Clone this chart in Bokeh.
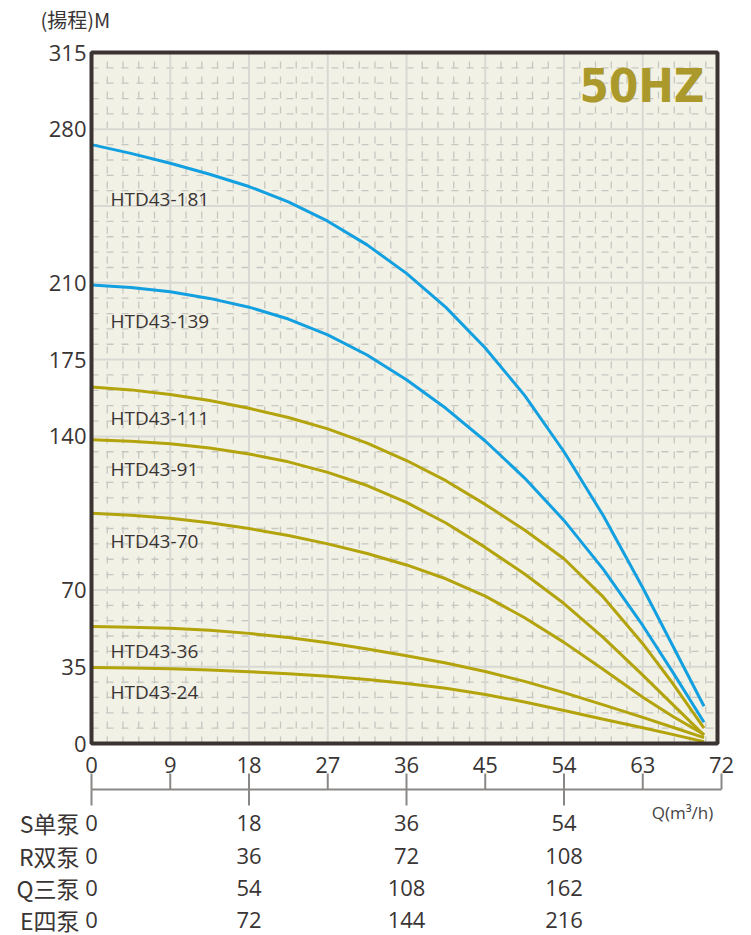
from bokeh.plotting import figure
from bokeh.models import Range1d
from bokeh.core.properties import value
from bokeh.embed import file_html
from bokeh.resources import INLINE

# ---------------- data ----------------
Q = [0, 4.5, 9, 13.5, 18, 22.5, 27, 31.5, 36, 40.5, 45, 49.5, 54, 58.5, 63, 66.5, 70]
H_181 = [273, 269, 264.5, 259.5, 253.9, 246.9, 238.1, 227.3, 214.3, 198.8, 180.3, 158.7, 133, 103.8, 71, 44, 17]
H_139 = [209, 207.9, 205.9, 202.9, 198.9, 193.5, 186.3, 177.1, 165.8, 152.8, 137.9, 121, 101.7, 79.4, 53.8, 32.1, 9.7]
H_111 = [162.5, 161.2, 159.1, 156.4, 152.8, 148.6, 143.4, 136.9, 129, 119.8, 109, 97.3, 84.2, 66.7, 45.5, 27, 7]
H_91 = [138.5, 137.8, 136.6, 134.7, 132, 128.4, 123.6, 117.6, 109.9, 100.5, 89.4, 77.3, 63.8, 48.3, 31.2, 17.5, 3.8]
H_70 = [105, 104.1, 102.7, 100.6, 98, 94.8, 91, 86.6, 81.4, 75.1, 67.2, 57.3, 46.1, 33.7, 21.1, 12.2, 4.1]
H_36 = [53.3, 53, 52.5, 51.6, 50.2, 48.3, 45.9, 43.1, 40, 36.7, 32.8, 28.3, 23.2, 17.6, 11.9, 7.3, 2.7]
H_24 = [34.6, 34.4, 34.05, 33.5, 32.75, 31.8, 30.65, 29.2, 27.4, 25.15, 22.35, 18.95, 15.05, 11.05, 7.15, 4.05, 0.8]

models = ["HTD43-181", "HTD43-139", "HTD43-111", "HTD43-91", "HTD43-70", "HTD43-36", "HTD43-24"]
heads = [H_181, H_139, H_111, H_91, H_70, H_36, H_24]
series_group = ["blue", "blue", "olive", "olive", "olive", "olive", "olive"]

y_tick_labels = [0, 35, 70, 140, 175, 210, 280, 315]
y_max = 315
x_ticks = [0, 9, 18, 27, 36, 45, 54, 63, 72]
table_q = [0, 18, 36, 54]
pump_rows = ["S单泵", "R双泵", "Q三泵", "E四泵"]
row_values = [[0, 18, 36, 54], [0, 36, 72, 108], [0, 54, 108, 162], [0, 72, 144, 216]]
freq_label = "50HZ"
y_title = "(揚程)M"
x_title = "Q(m³/h)"

# ---------------- layout (pixel geometry -> data units) ----------------
W, H = 751, 935
X0, PX_Q = 91, 8.75            # pixel of Q=0, pixels per m3/h
Y0, PX_H = 743, 691 / 315      # pixel of H=0, pixels per metre


def qx(px):
    return (px - X0) / PX_Q


def hy(py):
    return (Y0 - py) / PX_H


chart_right = qx(717)

COLORS = {"blue": "#13a0e0", "olive": "#b3a30c"}
TXT = "#3a3535"
LATIN = "Open Sans"
CJK = "Noto Sans CJK SC"
BG = "#f2f1e6"
MAJ = "#d9d9d4"
MIN = "#c7c7c1"
FRAME = "#3a3331"
AX = "#8a8886"

label_x = qx(110)
label_y = [hy(198), hy(320), hy(417), hy(468), hy(540), hy(650), hy(691)]

p = figure(width=W, height=H,
           x_range=Range1d(qx(0), qx(W)), y_range=Range1d(hy(H), hy(0)),
           x_axis_location=None, y_axis_location=None, title_location=None,
           output_backend="svg", toolbar_location=None, min_border=0,
           background_fill_color="white", border_fill_color="white")
p.outline_line_color = None
p.xgrid.visible = False
p.ygrid.visible = False

# chart background
p.quad(left=[0], right=[chart_right], bottom=[0], top=[y_max],
       fill_color=BG, line_color=None)

# grid
v_major = [t for t in range(0, 73, 9) if 0 < t < chart_right]
v_minor = [i * 1.8 for i in range(1, 40) if i % 5 and i * 1.8 < chart_right]
h_major = list(range(35, y_max, 35))
h_minor = [v for v in range(7, y_max, 7) if v % 35]
p.segment(x0=v_minor, y0=0, x1=v_minor, y1=y_max, line_color=MIN, line_width=1.3, line_dash="7 8")
p.segment(x0=0, y0=h_minor, x1=chart_right, y1=h_minor, line_color=MIN, line_width=1.3, line_dash="7 8")
p.segment(x0=v_major, y0=0, x1=v_major, y1=y_max, line_color=MAJ, line_width=2)
p.segment(x0=0, y0=h_major, x1=chart_right, y1=h_major, line_color=MAJ, line_width=2)

# curves
for h, grp in zip(heads, series_group):
    p.line(Q, h, line_color=COLORS[grp], line_width=3, line_join="round")

# frame
p.quad(left=[0], right=[chart_right], bottom=[0], top=[y_max],
       fill_color=None, line_color=FRAME, line_width=4)

# curve labels
p.text(x=[label_x] * len(models), y=label_y, text=models,
       text_font=value(LATIN), text_font_size="19px",
       text_baseline="middle", text_align="left", text_color=TXT)

# 50HZ
p.text(x=[qx(704)], y=[hy(85)], text=[freq_label], text_align="right",
       text_baseline="middle", text_font=value("DejaVu Sans Condensed"),
       text_font_style="bold", text_font_size="47px", text_color="#ab992c")

# y tick labels and title
p.text(x=[qx(86)] * len(y_tick_labels), y=y_tick_labels, text=[str(v) for v in y_tick_labels],
       text_font=value(LATIN), text_font_size="22px", text_align="right",
       text_baseline="middle", text_color=TXT)
p.text(x=[qx(40)], y=[hy(19)], text=[y_title], text_font=value(CJK),
       text_font_size="20px", text_align="left", text_baseline="middle", text_color=TXT)

# lower flow axis
axis_h, tick_top_h, tick_bot_h = hy(789), hy(773), hy(805)
p.segment(x0=[x_ticks[0]], y0=[axis_h], x1=[x_ticks[-1]], y1=[axis_h],
          line_color=AX, line_width=2)
p.segment(x0=x_ticks, y0=tick_top_h, x1=x_ticks, y1=axis_h, line_color=AX, line_width=2)
p.segment(x0=table_q, y0=axis_h, x1=table_q, y1=tick_bot_h, line_color=AX, line_width=2)
p.text(x=x_ticks, y=[hy(764)] * len(x_ticks), text=[str(t) for t in x_ticks],
       text_font=value(LATIN), text_font_size="22px", text_align="center",
       text_baseline="middle", text_color=TXT)
p.text(x=[qx(682)], y=[hy(812)], text=[x_title], text_font=value(LATIN),
       text_font_size="17px", text_align="center", text_baseline="middle",
       text_color="#444444")

# pump table
row_y = [hy(822), hy(855), hy(887), hy(919)]
for ry, vals in zip(row_y, row_values):
    p.text(x=table_q, y=[ry] * len(vals), text=[str(v) for v in vals],
           text_font=value(LATIN), text_font_size="22px", text_align="center",
           text_baseline="middle", text_color=TXT)
p.text(x=[qx(79)] * len(pump_rows), y=row_y, text=pump_rows,
       text_font=value(CJK), text_font_size="23px", text_align="right",
       text_baseline="middle", text_color=TXT)

open("out.html", "w").write(file_html(p, INLINE))
